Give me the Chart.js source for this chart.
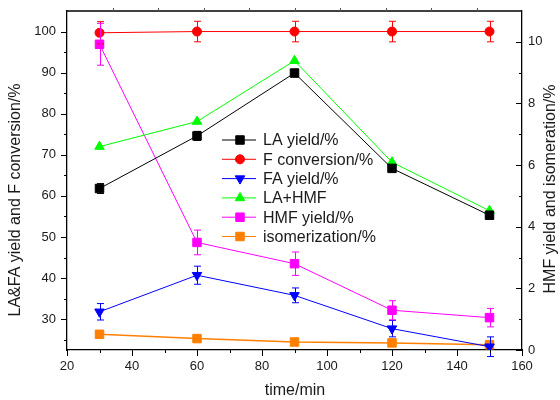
<!DOCTYPE html>
<html>
<head>
<meta charset="utf-8">
<script src="https://cdn.jsdelivr.net/npm/chart.js@4.4.1/dist/chart.umd.min.js"></script>
<style>
  html, body { margin:0; padding:0; background:#fff; }
  #wrap { width:560px; height:400px; }
</style>
</head>
<body>
<div id="wrap"><canvas id="c" width="560" height="400"></canvas></div>
<script>
// data
const times      = [30, 60, 90, 120, 150]
const laYield    = [61.8, 74.6, 89.9, 66.7, 55.3]
const laErr      = [1.2, 1.1, 0.9, 0.7, 0.7]
const fConv      = [99.7, 100, 100, 100, 100]
const fErr       = [2.7, 2.5, 2.5, 2.5, 2.5]
const faYield    = [31.8, 40.7, 35.8, 27.7, 23.3]
const faErr      = [2.0, 2.2, 1.8, 2.0, 2.4]
const laHmf      = [72.0, 78.1, 92.9, 68.2, 56.4]
const hmfYield   = [9.92, 3.49, 2.80, 1.29, 1.05]
const hmfErr     = [0.68, 0.40, 0.38, 0.31, 0.30]
const isomer     = [0.51, 0.37, 0.26, 0.23, 0.17]

const xTicks     = [20, 40, 60, 80, 100, 120, 140, 160]
const xMinor     = [30, 50, 70, 90, 110, 130, 150]
const leftTicks  = [30, 40, 50, 60, 70, 80, 90, 100]
const leftMinor  = [25, 35, 45, 55, 65, 75, 85, 95]
const rightTicks = [0, 2, 4, 6, 8, 10]
const rightMinor = [1, 3, 5, 7, 9]
const topTicks   = [34, 48, 62, 76, 90, 104, 118, 132, 146]

const FONT = "'Liberation Sans', Arial, sans-serif"
const TXT = '#1a1a1a'

const pts = ys => times.map((t, i) => ({ x: t, y: ys[i] }))

const series = [
  { label:'LA yield/%',      data:laYield,  err:laErr,  color:'#000000', style:'rect',     r:6,   rot:0,   axis:'y'  },
  { label:'F conversion/%',  data:fConv,    err:fErr,   color:'#ff0000', style:'circle',   r:4.5, rot:0,   axis:'y'  },
  { label:'FA yield/%',      data:faYield,  err:faErr,  color:'#0000ff', style:'triangle', r:5.5, rot:180, axis:'y'  },
  { label:'LA+HMF',          data:laHmf,    err:null,   color:'#00ff00', style:'triangle', r:5.5, rot:0,   axis:'y'  },
  { label:'HMF yield/%',     data:hmfYield, err:hmfErr, color:'#ff00ff', style:'rect',     r:6,   rot:0,   axis:'y2' },
  { label:'isomerization/%', data:isomer,   err:null,   color:'#ff8000', style:'rect',     r:6,   rot:0,   axis:'y2' },
]

const decor = {
  id: 'decor',
  afterDatasetsDraw(chart) {
    const ctx = chart.ctx
    const xs = chart.scales.x
    ctx.save()
    ctx.lineWidth = 1
    series.forEach(s => {
      if (!s.err) return
      const ys = chart.scales[s.axis]
      ctx.strokeStyle = s.color
      s.data.forEach((v, i) => {
        const x = Math.round(xs.getPixelForValue(times[i])) + 0.5
        const t = ys.getPixelForValue(v + s.err[i])
        const b = ys.getPixelForValue(v - s.err[i])
        ctx.beginPath()
        ctx.moveTo(x, t); ctx.lineTo(x, b)
        ctx.moveTo(x - 3.5, t); ctx.lineTo(x + 3.5, t)
        ctx.moveTo(x - 3.5, b); ctx.lineTo(x + 3.5, b)
        ctx.stroke()
      })
    })
    ctx.restore()
  },
  afterDraw(chart) {
    const ctx = chart.ctx
    const a = chart.chartArea
    const xs = chart.scales.x, yl = chart.scales.y, yr = chart.scales.y2
    ctx.save()
    ctx.strokeStyle = '#000'
    ctx.lineWidth = 1.3
    // top frame line
    ctx.beginPath(); ctx.moveTo(a.left, a.top); ctx.lineTo(a.right, a.top); ctx.stroke()
    ctx.lineWidth = 1
    const hTick = (vals, len, scale, x0, dir) => vals.forEach(v => {
      const y = Math.round(scale.getPixelForValue(v)) + 0.5
      ctx.beginPath(); ctx.moveTo(x0, y); ctx.lineTo(x0 + dir * len, y); ctx.stroke()
    })
    hTick(leftTicks, 6, yl, a.left, -1)
    hTick(leftMinor, 3, yl, a.left, -1)
    hTick(rightTicks, 6, yr, a.right, -1)
    hTick(rightMinor, 3, yr, a.right, -1)
    const vTick = (vals, len, y0, dir) => vals.forEach(v => {
      const x = Math.round(xs.getPixelForValue(v)) + 0.5
      ctx.beginPath(); ctx.moveTo(x, y0); ctx.lineTo(x, y0 + dir * len); ctx.stroke()
    })
    vTick(xTicks, 6, a.bottom, 1)
    vTick(xMinor, 3, a.bottom, 1)
    ctx.strokeStyle = '#555'
    vTick(topTicks, 3, a.top, -1)

    // axis titles
    ctx.fillStyle = TXT
    ctx.font = '16px ' + FONT
    ctx.textAlign = 'center'
    ctx.textBaseline = 'middle'
    ctx.fillText('time/min', 295, 391)
    ctx.save(); ctx.translate(16, 200); ctx.rotate(-Math.PI / 2)
    ctx.fillText('LA&FA yield and F conversion/%', 0, 0); ctx.restore()
    ctx.save(); ctx.translate(551, 189); ctx.rotate(-Math.PI / 2)
    ctx.fillText('HMF yield and isomeration/%', 0, 0); ctx.restore()

    // legend
    const lx = 222, ly = 140, step = 19.3
    ctx.textAlign = 'left'
    series.forEach((s, i) => {
      const y = ly + i * step
      ctx.strokeStyle = s.color
      ctx.lineWidth = 1
      ctx.beginPath(); ctx.moveTo(lx, y); ctx.lineTo(lx + 34, y); ctx.stroke()
      ctx.fillStyle = s.color
      Chart.helpers.drawPoint(ctx, { pointStyle: s.style, rotation: s.rot, radius: s.r, borderWidth: 1 }, lx + 18, y)
      ctx.fillStyle = TXT
      ctx.fillText(s.label, lx + 41, y + 1)
    })
    ctx.restore()
  }
}

const axisFont = { family: FONT, size: 13 }

const chart = new Chart(document.getElementById('c'), {
  type: 'line',
  data: {
    datasets: series.map(s => ({
      label: s.label,
      data: pts(s.data),
      yAxisID: s.axis,
      borderColor: s.color,
      backgroundColor: s.color,
      pointBackgroundColor: s.color,
      pointBorderColor: s.color,
      borderWidth: s.label === 'isomerization/%' ? 1.5 : 1,
      pointStyle: s.style,
      pointRadius: s.r,
      pointRotation: s.rot,
      pointBorderWidth: 1,
      tension: 0,
    }))
  },
  options: {
    responsive: false,
    animation: false,
    devicePixelRatio: 1,
    layout: { padding: { top: 11, left: 0, right: 0, bottom: 0 } },
    plugins: { legend: { display: false }, tooltip: { enabled: false } },
    scales: {
      x: {
        type: 'linear', min: 20, max: 160,
        afterBuildTicks: s => { s.ticks = xTicks.map(v => ({ value: v })) },
        afterFit: s => { s.height = 50 },
        grid: { display: false, drawTicks: false },
        border: { display: true, color: '#000', width: 1.3 },
        ticks: { color: TXT, font: axisFont, padding: 9, maxRotation: 0 }
      },
      y: {
        type: 'linear', position: 'left', min: 22.5, max: 105,
        afterBuildTicks: s => { s.ticks = leftTicks.map(v => ({ value: v })) },
        afterFit: s => { s.width = 67; s.paddingTop = 0 },
        grid: { display: false, drawTicks: false },
        border: { display: true, color: '#000', width: 1.3 },
        ticks: { color: TXT, font: axisFont, padding: 11 }
      },
      y2: {
        type: 'linear', position: 'right', min: 0, max: 11,
        afterBuildTicks: s => { s.ticks = rightTicks.map(v => ({ value: v })) },
        afterFit: s => { s.width = 38; s.paddingTop = 0 },
        grid: { display: false, drawTicks: false },
        border: { display: true, color: '#000', width: 1.3 },
        ticks: { color: TXT, font: axisFont, padding: 6 }
      }
    }
  },
  plugins: [decor]
})
// correct top padding so the plot frame starts where the reference does
const off = chart.chartArea.top - 11
if (Math.abs(off) > 0.5) {
  chart.options.layout.padding.top = 11 - off
  chart.update()
}
</script>
</body>
</html>
